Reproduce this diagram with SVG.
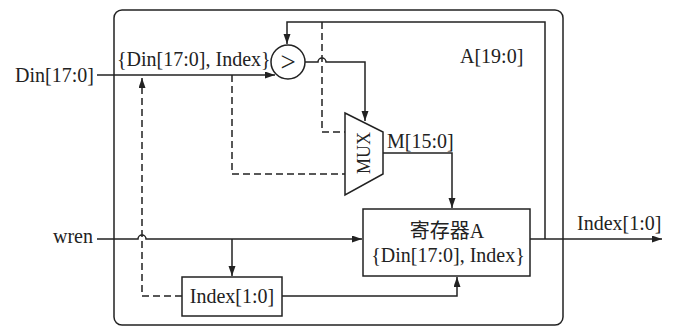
<svg xmlns="http://www.w3.org/2000/svg" width="676" height="327" viewBox="0 0 676 327">
<style>
.ln{fill:none;stroke:#222;stroke-width:1.5}
.ds{fill:none;stroke:#222;stroke-width:1.5;stroke-dasharray:7,4}
.bx{fill:#fff;stroke:#222;stroke-width:1.5}
text{font-family:"Liberation Serif","Noto Sans CJK SC",serif;font-size:20px;fill:#222}
</style>
<defs>
<marker id="ar" markerUnits="userSpaceOnUse" markerWidth="11" markerHeight="8" refX="10" refY="3.5" orient="auto">
<path d="M0,0 L10,3.5 L0,7 z" fill="#222"/>
</marker>
</defs>
<rect x="114" y="10" width="449" height="315" rx="8" fill="none" stroke="#222" stroke-width="1.5"/>
<g id="connectors">
<path class="ln" d="M97,75 H275" marker-end="url(#ar)"/>
<path class="ln" d="M545,239 V22 H287 V44" marker-end="url(#ar)"/>
<path class="ln" d="M305,62 H318 A4,4 0 0 1 326,62 H365 V121" marker-end="url(#ar)"/>
<path class="ds" d="M322,22 V132 H345"/>
<path class="ds" d="M232,75 V174 H345"/>
<path class="ds" d="M182,296 H142 V78" marker-end="url(#ar)"/>
<path class="ln" d="M383,153 H452 V208" marker-end="url(#ar)"/>
<path class="ln" d="M97,239 H138 A4,4 0 0 1 146,239 H362" marker-end="url(#ar)"/>
<path class="ln" d="M232,239 V276" marker-end="url(#ar)"/>
<path class="ln" d="M282,296 H457 V277" marker-end="url(#ar)"/>
<path class="ln" d="M530,239 H662" marker-end="url(#ar)"/>
</g>
<g id="comparator">
<circle class="bx" cx="288" cy="62" r="17"/>
<text x="288" y="71" text-anchor="middle" style="font-size:27px">&gt;</text>
</g>
<g id="mux">
<path class="bx" d="M345,113 L383,132 L383,174 L345,195 Z"/>
<text transform="translate(370,153) rotate(-90)" text-anchor="middle" style="font-size:18px">MUX</text>
</g>
<g id="regA">
<rect class="bx" x="363" y="209" width="167" height="67"/>
<text x="447" y="238" text-anchor="middle">寄存器A</text>
<text x="448" y="262" text-anchor="middle">{Din[17:0], Index}</text>
</g>
<g id="indexReg">
<rect class="bx" x="182" y="277" width="100" height="39"/>
<text x="232" y="303" text-anchor="middle">Index[1:0]</text>
</g>
<g id="labels">
<text x="94" y="82" text-anchor="end">Din[17:0]</text>
<text x="117" y="66">{Din[17:0], Index}</text>
<text x="460" y="63">A[19:0]</text>
<text x="387" y="148">M[15:0]</text>
<text x="93" y="243" text-anchor="end">wren</text>
<text x="577" y="230">Index[1:0]</text>
</g>
</svg>
